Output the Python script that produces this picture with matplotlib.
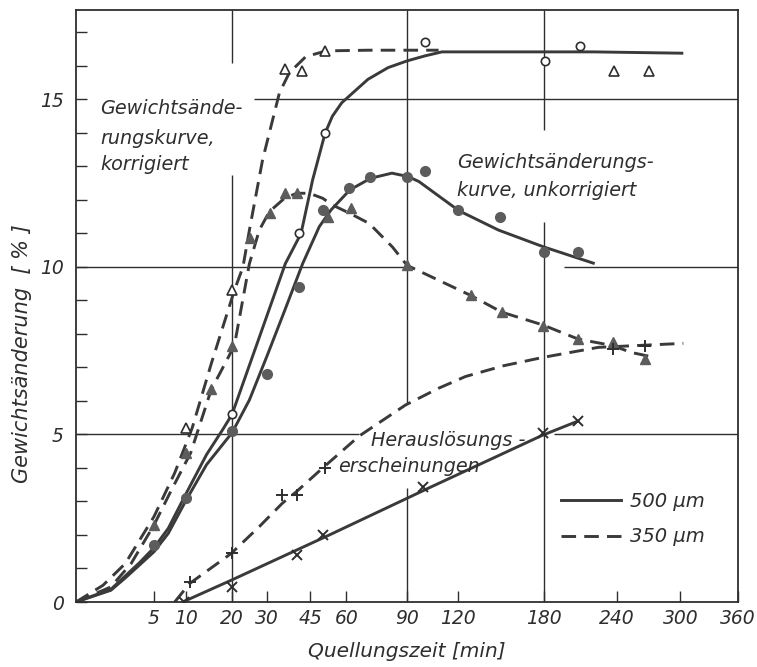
import numpy as np
import matplotlib
matplotlib.use("Agg")
import matplotlib.pyplot as plt
from matplotlib.lines import Line2D

t_k500 = [20, 41, 51, 100, 181, 209]
v_k500 = [5.6, 11.0, 14.0, 16.7, 16.15, 16.6]

t_k350 = [10, 20, 36, 42, 51, 238, 270]
v_k350 = [5.2, 9.3, 15.9, 15.85, 16.45, 15.85, 15.85]

t_u500 = [5, 10, 20, 30, 41, 50, 61, 71, 90, 100, 120, 148, 180, 207]
v_u500 = [1.7, 3.1, 5.1, 6.8, 9.4, 11.7, 12.35, 12.7, 12.7, 12.85, 11.7, 11.5, 10.45, 10.45]

t_u350 = [5, 10, 15, 20, 25, 31, 36, 40, 52, 62, 90, 128, 149, 179, 207, 237, 266]
v_u350 = [2.3, 4.45, 6.35, 7.65, 10.85, 11.6, 12.2, 12.2, 11.5, 11.75, 10.05, 9.15, 8.65, 8.25, 7.85, 7.75, 7.25]

t_h350 = [10.6, 20, 35, 40, 51, 237, 266]
v_h350 = [0.6, 1.45, 3.2, 3.2, 4.0, 7.55, 7.65]

t_h500 = [9.5, 20, 40, 50, 99, 179, 207]
v_h500 = [0.0, 0.45, 1.4, 2.0, 3.43, 5.05, 5.4]

# drawn curves
ct_k500 = [0, 1, 2, 3.3, 5, 7, 10, 14, 17.7, 20, 27.6, 36, 41.6, 46, 51, 54, 58, 63, 70, 80, 90, 100, 110,
           150, 220, 303]
cv_k500 = [0, 0.38, 0.78, 1.17, 1.62, 2.2, 3.25, 4.4, 5.15, 5.6, 7.9, 10.1, 11.0, 12.6, 14.0, 14.5, 14.9,
           15.2, 15.6, 15.95, 16.15, 16.3, 16.42, 16.42, 16.42, 16.38]

ct_u500 = [0, 1, 2, 3.3, 5, 7, 10, 14, 20, 24.7, 30, 36, 42.2, 48.6, 53.4, 61.6, 71.4, 82, 90.5, 96.6,
           120.4, 146.7, 179.6, 221]
cv_u500 = [0, 0.35, 0.72, 1.1, 1.5, 2.05, 3.05, 4.1, 5.05, 6.03, 7.35, 8.75, 10.1, 11.2, 11.7, 12.3, 12.65,
           12.8, 12.7, 12.55, 11.68, 11.1, 10.6, 10.1]

ct_k350 = [0, 0.6, 2, 5, 8, 11.1, 15, 20.6, 22.9, 24.7, 28.6, 34, 37.4, 43.4, 51.5, 70, 96.6, 108]
cv_k350 = [0, 0.5, 1.15, 2.55, 3.85, 5.2, 7.1, 9.3, 10.0, 11.1, 13.2, 15.2, 15.8, 16.28, 16.45, 16.47, 16.47, 16.47]

ct_u350 = [0, 1, 2.5, 5, 7.5, 10.8, 15, 20.6, 24.7, 27.6, 30.7, 35.7, 40, 44.7, 50, 54, 61.6, 70.6, 82.2, 90,
           128, 149, 179, 207, 237, 253, 275]
cv_u350 = [0, 0.45, 1.15, 2.3, 3.35, 4.45, 6.33, 7.65, 10.1, 11.1, 11.65, 12.05, 12.2, 12.2, 12.05, 11.85, 11.6,
           11.3, 10.6, 10.05, 9.15, 8.65, 8.27, 7.85, 7.65, 7.45, 7.3]

ct_h350 = [8, 10.6, 19.8, 27.6, 35, 40, 50, 65.8, 89.2, 108, 124.6, 150, 179, 224, 303]
cv_h350 = [0, 0.55, 1.45, 2.25, 2.95, 3.3, 4.0, 4.95, 5.88, 6.38, 6.73, 7.05, 7.3, 7.6, 7.72]

ct_h500 = [9.35, 19.8, 52.7, 104.2, 178.3, 207]
cv_h500 = [0, 0.65, 2.0, 3.45, 4.97, 5.4]

xticks = [5, 10, 20, 30, 45, 60, 90, 120, 180, 240, 300, 360]

plt.rcParams["font.family"] = ["DejaVu Sans"]
plt.rcParams["font.style"] = "italic"

ink = "#2e2e2e"
line_c = "#3a3a3a"
fill_c = "#5c5c5c"

W, H = 757, 667
x0, y0, x1, y1 = 76, 602, 738, 10   # axes box in pixels

fig = plt.figure(figsize=(W / 100, H / 100), dpi=100)
ax = fig.add_axes([x0 / W, 1 - y0 / H, (x1 - x0) / W, (y0 - y1) / H])


def ax_xy(px, py):
    # pixel position -> axes fraction (for text placement)
    return (px - x0) / (x1 - x0), (y0 - py) / (y0 - y1)


ax.set_xscale("function", functions=(lambda x: np.sqrt(np.clip(x, 0, None)), lambda x: np.square(x)))
ax.set_xlim(0, 360)
ax.set_ylim(0, 17.67)

# grid lines (with the gaps of the original drawing)
gk = dict(color=ink, lw=1.0, zorder=1)
ax.hlines(5, 0, 66, **gk)
ax.hlines(5, 188, 360, **gk)
ax.hlines(10, 0, 90, **gk)
ax.hlines(10, 196, 360, **gk)
ax.hlines(15, 26, 360, **gk)
ax.vlines(20, 0, 12.75, **gk)
ax.vlines(20, 16.1, 17.67, **gk)
ax.vlines(90, 0, 3.4, **gk)
ax.vlines(90, 5.9, 17.67, **gk)
ax.vlines(180, 0, 11.35, **gk)
ax.vlines(180, 14.1, 17.67, **gk)

solid = dict(color=line_c, lw=2.1, solid_capstyle="butt", solid_joinstyle="round", zorder=2)
dashed = dict(color=line_c, lw=2.1, dashes=(5, 2.8), zorder=2)
ax.plot(ct_k500, cv_k500, **solid)
ax.plot(ct_u500, cv_u500, **solid)
ax.plot(ct_h500, cv_h500, **solid)
ax.plot(ct_k350, cv_k350, **dashed)
ax.plot(ct_u350, cv_u350, **dashed)
ax.plot(ct_h350, cv_h350, **dashed)

mk = dict(ls="none", zorder=3)
ax.plot(t_k500, v_k500, marker="o", ms=6, mfc="white", mec=ink, mew=1.2, **mk)
ax.plot(t_k350, v_k350, marker="^", ms=7.5, mfc="white", mec=ink, mew=1.2, **mk)
ax.plot(t_u500, v_u500, marker="o", ms=7, mfc=fill_c, mec=fill_c, **mk)
ax.plot(t_u350, v_u350, marker="^", ms=7.5, mfc=fill_c, mec=fill_c, **mk)
ax.plot(t_h350, v_h350, marker="+", ms=8, mec=ink, mew=1.4, **mk)
ax.plot(t_h500, v_h500, marker="x", ms=6.5, mec=ink, mew=1.4, **mk)

# axes and ticks
for s in ax.spines.values():
    s.set_color(ink)
    s.set_linewidth(1.3)
ax.set_xticks(xticks)
ax.set_xticklabels([str(t) for t in xticks])
ax.set_yticks([0, 5, 10, 15])
ax.set_yticks(range(1, 18), minor=True)
ax.xaxis.set_minor_locator(matplotlib.ticker.NullLocator())
ax.tick_params(axis="both", which="both", direction="in", length=8, width=1.0, color=ink,
               labelcolor=ink, labelsize=13.5)
ax.tick_params(axis="x", pad=5)
ax.tick_params(axis="y", pad=9)

ax.set_xlabel("Quellungszeit [min]", fontsize=14.5, color=ink)
ax.xaxis.set_label_coords(0.5, ax_xy(0, 642)[1])
ax.set_ylabel("Gewichtsänderung  [ % ]", fontsize=15, color=ink)
ax.yaxis.set_label_coords(ax_xy(32, 0)[0], ax_xy(0, 354)[1])

# annotations, one text per line
notes = [
    ("Gewichtsände-", 100, 109),
    ("rungskurve,", 100, 138),
    ("korrigiert", 100, 165),
    ("Gewichtsänderungs-", 457, 162),
    ("kurve, unkorrigiert", 457, 190),
    ("Herauslösungs -", 371, 440),
    ("erscheinungen", 338, 466),
]
for s, px, py in notes:
    ax.text(*ax_xy(px, py), s, transform=ax.transAxes, fontsize=13.8, color=ink,
            ha="left", va="center")

handles = [Line2D([], [], color=line_c, lw=2.1),
           Line2D([], [], color=line_c, lw=2.1, dashes=(5, 2.8))]
ax.legend(handles, ["500 µm", "350 µm"], loc="lower left", bbox_to_anchor=ax_xy(543, 564),
          frameon=False, fontsize=14, handlelength=3.1, labelspacing=0.85, handletextpad=0.5,
          borderpad=0.4, labelcolor=ink)

fig.savefig("out.png", dpi=100)
